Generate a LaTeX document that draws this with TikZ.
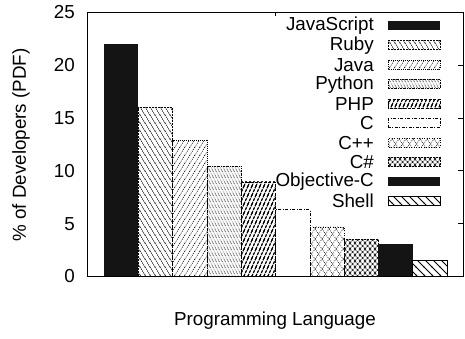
\documentclass[tikz,border=0pt]{standalone}
\usepackage{fontspec}
\setmainfont{Liberation Sans}
\usetikzlibrary{patterns}

% hatch fills used by the bars and the key
\pgfdeclarepatternformonly{rubyfill}{\pgfqpoint{-1pt}{-1pt}}{\pgfqpoint{6pt}{9pt}}{\pgfqpoint{5pt}{8pt}}{%
  \pgfsetlinewidth{0.55pt}\pgfsetdash{{1.5pt}{0.8pt}}{0pt}%
  \pgfpathmoveto{\pgfqpoint{-0.3pt}{8.48pt}}\pgfpathlineto{\pgfqpoint{5.3pt}{-0.48pt}}\pgfusepath{stroke}}
\pgfdeclarepatternformonly{javafill}{\pgfqpoint{-1pt}{-1pt}}{\pgfqpoint{6pt}{9pt}}{\pgfqpoint{5pt}{8pt}}{%
  \pgfsetlinewidth{0.5pt}\pgfsetdash{{1.2pt}{1pt}}{0pt}%
  \pgfpathmoveto{\pgfqpoint{-0.3pt}{-0.48pt}}\pgfpathlineto{\pgfqpoint{5.3pt}{8.48pt}}\pgfusepath{stroke}}
\pgfdeclarepatternformonly{pythonfill}{\pgfqpoint{-1pt}{-1pt}}{\pgfqpoint{4pt}{7pt}}{\pgfqpoint{3pt}{6pt}}{%
  \pgfsetlinewidth{0.55pt}%
  \pgfpathmoveto{\pgfqpoint{-0.3pt}{6.6pt}}\pgfpathlineto{\pgfqpoint{3.3pt}{-0.6pt}}\pgfusepath{stroke}}
\pgfdeclarepatternformonly{phpfill}{\pgfqpoint{-1pt}{-1pt}}{\pgfqpoint{5pt}{10pt}}{\pgfqpoint{4pt}{9pt}}{%
  \pgfsetlinewidth{1.2pt}\pgfsetdash{{3pt}{1pt}}{0pt}%
  \pgfpathmoveto{\pgfqpoint{-0.3pt}{-0.675pt}}\pgfpathlineto{\pgfqpoint{4.3pt}{9.675pt}}\pgfusepath{stroke}}
\pgfdeclarepatternformonly{cppfill}{\pgfqpoint{-1pt}{-1pt}}{\pgfqpoint{8pt}{11pt}}{\pgfqpoint{7pt}{10pt}}{%
  \pgfsetlinewidth{0.6pt}\pgfsetdash{{0.8pt}{1.2pt}}{0pt}%
  \pgfpathmoveto{\pgfqpoint{0pt}{0pt}}\pgfpathlineto{\pgfqpoint{7pt}{10pt}}%
  \pgfpathmoveto{\pgfqpoint{0pt}{10pt}}\pgfpathlineto{\pgfqpoint{7pt}{0pt}}\pgfusepath{stroke}}
\pgfdeclarepatternformonly{csharpfill}{\pgfqpoint{-1pt}{-1pt}}{\pgfqpoint{6pt}{7pt}}{\pgfqpoint{5pt}{6pt}}{%
  \pgfsetlinewidth{0.9pt}%
  \pgfpathmoveto{\pgfqpoint{0pt}{0pt}}\pgfpathlineto{\pgfqpoint{5pt}{6pt}}%
  \pgfpathmoveto{\pgfqpoint{0pt}{6pt}}\pgfpathlineto{\pgfqpoint{5pt}{0pt}}\pgfusepath{stroke}}
\pgfdeclarepatternformonly{shellfill}{\pgfqpoint{-1pt}{-1pt}}{\pgfqpoint{9pt}{9pt}}{\pgfqpoint{8pt}{8pt}}{%
  \pgfsetlinewidth{0.8pt}%
  \pgfpathmoveto{\pgfqpoint{-0.5pt}{8.5pt}}\pgfpathlineto{\pgfqpoint{8.5pt}{-0.5pt}}\pgfusepath{stroke}}

\tikzset{
  txt/.style={inner sep=0pt, font=\fontsize{18.8}{20}\selectfont},
  frame/.style={line width=0.9pt},
  sjs/.style={fill=black!92},
  sruby/.style={pattern=rubyfill, draw, line width=0.6pt, dash pattern=on 2pt off 1pt},
  sjava/.style={pattern=javafill, draw, line width=0.6pt, dash pattern=on 1pt off 1pt},
  spython/.style={pattern=pythonfill, pattern color=black!65, draw, line width=0.6pt, dash pattern=on 2pt off 1pt on 0.5pt off 1pt},
  sphp/.style={pattern=phpfill, draw, line width=0.6pt, dash pattern=on 3pt off 1.5pt},
  sc/.style={draw, line width=0.6pt, dash pattern=on 3pt off 1.5pt on 1pt off 1.5pt},
  scpp/.style={pattern=cppfill, draw, line width=0.6pt, dash pattern=on 1pt off 1.5pt},
  scsharp/.style={pattern=csharpfill, pattern color=black!85, draw, line width=0.6pt, dash pattern=on 2pt off 1pt},
  sobjc/.style={fill=black!92},
  sshell/.style={pattern=shellfill, draw, line width=0.7pt},
}

\begin{document}
\begin{tikzpicture}[x=1pt, y=1pt]
  \useasboundingbox (0,0) rectangle (465,339);

  % bars: x0 = 104 + i*34.3, height = 10.56 per unit, base at 62.5
  \foreach \i/\v/\s in {0/22/sjs, 1/16/sruby, 2/12.9/sjava, 3/10.45/spython, 4/8.95/sphp,
                        5/6.35/sc, 6/4.7/scpp, 7/3.5/scsharp, 8/3.05/sobjc, 9/1.5/sshell}
    \path[\s] ({104+\i*34.3},62.5) rectangle ({104+(\i+1)*34.3},{62.5+10.56*\v});

  % plot frame
  \draw[frame] (87,62.5) rectangle (463,326.5);
  \foreach \v in {5,10,15,20}
    \draw[frame] (463,{62.5+10.56*\v}) -- (458,{62.5+10.56*\v});
  \draw[frame] (275,326.5) -- (275,322.5);

  % y tick labels
  \foreach \v in {0,5,10,15,20,25}
    \node[txt, anchor=east] (yt\v) at (75,{62.5+10.56*\v}) {\v};

  % axis titles
  \node[txt, rotate=90] (ylab) at (21,194) {\% of Developers (PDF)};
  \node[txt] (xlab) at (275,18) {Programming Language};

  % key
  \foreach \i/\name/\s in {0/JavaScript/sjs, 1/Ruby/sruby, 2/Java/sjava, 3/Python/spython, 4/PHP/sphp,
                           5/C/sc, 6/C++/scpp, 7/C\#/scsharp, 8/Objective-C/sobjc, 9/Shell/sshell}
  {
    \node[txt, anchor=east] (key\i) at (374,{339-25.7-19.5*\i}) {\name};
    \path[\s] (388,{339-25.7-19.5*\i-4.4}) rectangle (440,{339-25.7-19.5*\i+4.4});
  }
\end{tikzpicture}
\end{document}
